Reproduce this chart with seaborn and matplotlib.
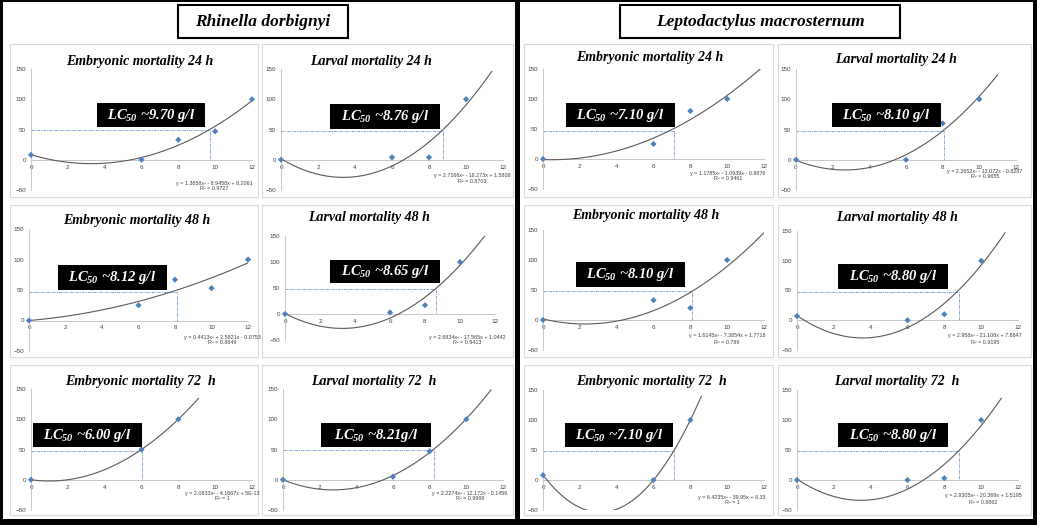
import numpy as np
import pandas as pd
import matplotlib
matplotlib.use("Agg")
import matplotlib.pyplot as plt
from matplotlib.patches import Rectangle
import seaborn as sns

# ==============================================================
# Data
# ==============================================================
species = ["Rhinella dorbignyi", "Leptodactylus macrosternum"]

titles = ["Embryonic mortality 24 h", "Larval mortality 24 h",
          "Embryonic mortality 48 h", "Larval mortality 48 h",
          "Embryonic mortality 72  h", "Larval mortality 72  h",
          "Embryonic mortality 24 h", "Larval mortality 24 h",
          "Embryonic mortality 48 h", "Larval mortality 48 h",
          "Embryonic mortality 72  h", "Larval mortality 72  h"]

conc = [[0, 6, 8, 10, 12], [0, 6, 8, 10],
        [0, 6, 8, 10, 12], [0, 6, 8, 10],
        [0, 6, 8], [0, 6, 8, 10],
        [0, 6, 8, 10], [0, 6, 8, 10],
        [0, 6, 8, 10], [0, 6, 8, 10],
        [0, 6, 8], [0, 6, 8, 10]]

mort = [[8, 0, 33, 47, 100], [0, 4, 4, 100],
        [0, 25, 67, 53, 100], [0, 3, 17, 100],
        [0, 50, 100], [0, 5, 47, 100],
        [0, 25, 80, 100], [0, 0, 60, 100],
        [0, 33, 20, 100], [7, 0, 10, 100],
        [8, 0, 100], [0, 0, 3, 100]]

# quadratic trendline coefficients (a, b, c) as printed in each panel
coefs = [[1.3658, -8.9458, 8.2061], [2.7166, -18.273, 1.5808],
         [0.4413, 2.5821, -0.0753], [2.6834, -17.565, 1.0442],
         [2.0833, -4.1667, 5e-13], [2.2274, -12.172, -0.1459],
         [1.1785, -1.0939, -0.9876], [2.2652, -12.072, -0.8287],
         [1.6145, -7.3854, 1.7718], [2.958, -21.108, 7.8847],
         [6.4235, -39.95, 8.33], [2.9305, -20.369, 1.5195]]
fit_end = [12, 11.4, 12, 11.5, 9.1, 11.35, 12, 11, 12, 11.3, 8.6, 11.1]

eq_text = ["y = 1.3658x² - 8.9458x + 8.2061\nR² = 0.9727",
           "y = 2.7166x² - 18.273x + 1.5808\nR² = 0.8703",
           "y = 0.4413x² + 2.5821x - 0.0753\nR² = 0.8849",
           "y = 2.6834x² - 17.565x + 1.0442\nR² = 0.9413",
           "y = 2.0833x² - 4.1667x + 5E-13\nR² = 1",
           "y = 2.2274x² - 12.172x - 0.1459\nR² = 0.9988",
           "y = 1.1785x² - 1.0939x - 0.9876\nR² = 0.9461",
           "y = 2.2652x² - 12.072x - 0.8287\nR² = 0.9655",
           "y = 1.6145x² - 7.3854x + 1.7718\nR² = 0.799",
           "y = 2.958x² - 21.108x + 7.8847\nR² = 0.9195",
           "y = 6.4235x² - 39.95x + 8.33\nR² = 1",
           "y = 2.9305x² - 20.369x + 1.5195\nR² = 0.8862"]

lc50 = [9.70, 8.76, 8.12, 8.65, 6.00, 8.21, 7.10, 8.10, 8.10, 8.80, 7.10, 8.80]
lc50_label = ["9.70 g/l", "8.76 g/l", "8.12 g/l", "8.65 g/l", "6.00 g/l", "8.21g/l",
              "7.10 g/l", "8.10 g/l", "8.10 g/l", "8.80 g/l", "7.10 g/l", "8.80 g/l"]
lc_y = [50, 47, 47, 49, 48, 50, 47, 48, 49, 48, 48, 48]

# ==============================================================
# Layout (pixels, origin top-left)
# ==============================================================
W, H = 1037, 525
axes_px = [(31, 69, 252, 190), (281, 69, 503, 190),
           (29, 229, 248, 351), (285, 236, 495, 340),
           (31, 389, 252, 510), (283, 389, 503, 510),
           (543, 69, 764, 189), (796, 69, 1016, 190),
           (543, 230, 764, 350), (797, 231, 1018, 350),
           (543, 390, 764, 510), (797, 390, 1018, 510)]
col_px = [(10, 258), (262, 513), (524, 773), (778, 1031)]
row_px = [(44, 197), (205, 357), (365, 515)]
title_px = [(140, 62), (371, 61), (137, 220), (369, 217), (140, 382), (374, 381),
            (650, 57), (896, 60), (646, 215), (897, 218), (651, 381), (897, 382)]
lcbox_px = [(97, 103, 205, 127), (330, 104, 440, 129), (58, 265, 167, 290),
            (330, 260, 440, 283), (33, 423, 142, 447), (321, 423, 431, 447),
            (566, 103, 675, 127), (832, 103, 941, 127), (576, 262, 685, 287),
            (838, 264, 948, 289), (565, 423, 673, 447), (838, 423, 948, 447)]
eq_px = [(214, 186), (472, 179), (222, 340), (467, 340), (222, 496), (470, 496),
         (728, 176), (985, 174), (727, 339), (985, 339), (732, 500), (983, 499)]
header_px = [(178, 5, 348, 38), (620, 5, 900, 38)]

POINT_C = "#4F81BD"
CURVE_C = "#595959"
GUIDE_C = "#7FA7D9"
AXIS_C = "#BFBFBF"

sns.set_style("white")
plt.rcParams["font.family"] = ["Liberation Sans", "DejaVu Sans"]
plt.rcParams["mathtext.fontset"] = "custom"
plt.rcParams["mathtext.rm"] = "Liberation Serif:italic:bold"
plt.rcParams["mathtext.it"] = "Liberation Serif:italic:bold"
plt.rcParams["mathtext.bf"] = "Liberation Serif:italic:bold"


def add_rect(fig, l, t, r, b, **kw):
    fig.add_artist(Rectangle((l / W, 1 - b / H), (r - l) / W, (b - t) / H,
                             transform=fig.transFigure, **kw))


fig = plt.figure(figsize=(W / 100, H / 100), dpi=100)
fig.patch.set_facecolor("white")

# chart-area boxes
for (pl, pr) in col_px:
    for (pt, pb) in row_px:
        add_rect(fig, pl, pt, pr, pb, facecolor="white", edgecolor="#D9D9D9",
                 lw=0.8, zorder=-1)

for i in range(12):
    l, t, r, b = axes_px[i]
    ax = fig.add_axes([l / W, 1 - b / H, (r - l) / W, (b - t) / H])
    ax.set_facecolor("none")

    xs = np.linspace(0, fit_end[i], 300)
    fit = pd.DataFrame({"conc": xs, "mort": np.polyval(coefs[i], xs)})
    pts = pd.DataFrame({"conc": conc[i], "mort": mort[i]})

    sns.lineplot(data=fit, x="conc", y="mort", ax=ax, color=CURVE_C, lw=0.8,
                 sort=False, estimator=None, zorder=3)
    ax.plot([0, lc50[i], lc50[i]], [lc_y[i], lc_y[i], 0], color=GUIDE_C,
            lw=0.7, ls=(0, (3, 1, 1, 1)), zorder=2)
    sns.scatterplot(data=pts, x="conc", y="mort", ax=ax, marker="D", s=10,
                    color=POINT_C, edgecolor="none", zorder=5, clip_on=False)

    ax.set_xlim(0, 12)
    ax.set_ylim(-50, 150)
    ax.set_xticks(range(0, 13, 2))
    ax.set_yticks([-50, 0, 50, 100, 150])
    ax.set_xlabel("")
    ax.set_ylabel("")
    for side in ["top", "right"]:
        ax.spines[side].set_visible(False)
    ax.spines["bottom"].set_position(("data", 0))
    for side in ["left", "bottom"]:
        ax.spines[side].set_color(AXIS_C)
        ax.spines[side].set_linewidth(0.6)
    ax.tick_params(axis="both", direction="out", length=2, width=0.5,
                   color=AXIS_C, labelsize=4.5, labelcolor="#404040", pad=1.5)

    # panel title
    tx, ty = title_px[i]
    fig.text(tx / W, 1 - ty / H, titles[i], ha="center", va="center",
             family="Liberation Serif", weight="bold", style="italic",
             fontsize=10, color="black")

    # LC50 label box
    bl, bt, br, bb = lcbox_px[i]
    add_rect(fig, bl, bt, br, bb, facecolor="black", edgecolor="none", zorder=5)
    fig.text((bl + br) / 2 / W, 1 - (bt + bb) / 2 / H,
             r"$LC_{50}$ ~" + lc50_label[i], ha="center", va="center",
             family="Liberation Serif", weight="bold", style="italic",
             fontsize=10.5, color="white", zorder=6)

    # trendline equation
    ex, ey = eq_px[i]
    fig.text(ex / W, 1 - ey / H, eq_text[i], ha="center", va="center",
             fontsize=3.9, color="#404040", linespacing=1.25)

# species headers
for name, (hl, ht, hr, hb) in zip(species, header_px):
    add_rect(fig, hl, ht, hr, hb, facecolor="white", edgecolor="black", lw=1.5,
             zorder=8)
    fig.text((hl + hr) / 2 / W, 1 - (ht + hb) / 2 / H, name, ha="center",
             va="center", family="Liberation Serif", weight="bold",
             style="italic", fontsize=12.5, color="black", zorder=9)

# black frame and separator
for (fl, ft, fr, fb) in [(0, 0, 3, H), (0, 0, W, 2), (W - 4, 0, W, H),
                         (0, H - 6, W, H), (515, 0, 520, H)]:
    add_rect(fig, fl, ft, fr, fb, facecolor="black", edgecolor="none", zorder=10)

fig.savefig("out.png", dpi=100)
